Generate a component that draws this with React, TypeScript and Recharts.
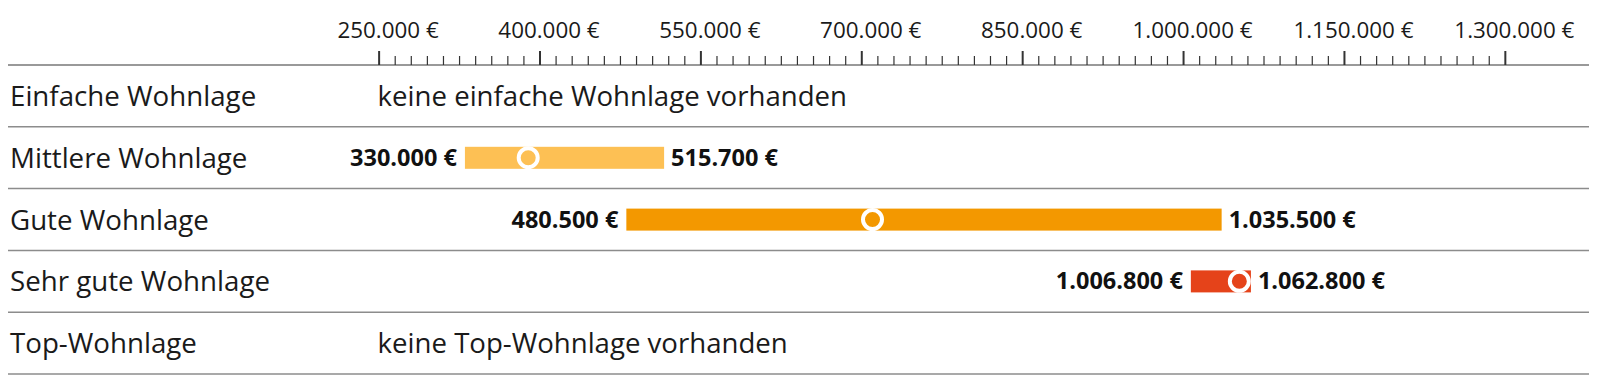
import { ComposedChart, Bar, Line, XAxis, YAxis, CartesianGrid } from "recharts";

const categories = [
  "Einfache Wohnlage",
  "Mittlere Wohnlage",
  "Gute Wohnlage",
  "Sehr gute Wohnlage",
  "Top-Wohnlage",
];
const lows = [null, 330000, 480500, 1006800, null];
const highs = [null, 515700, 1035500, 1062800, null];
const medians = [null, 389000, 710000, 1052000, null];
const notes = [
  "keine einfache Wohnlage vorhanden",
  null,
  null,
  null,
  "keine Top-Wohnlage vorhanden",
];
const majorTicks = [250000, 400000, 550000, 700000, 850000, 1000000, 1150000, 1300000];
const minorStep = 15000;
const barColors = [null, "#fdc054", "#f39800", "#e5431a", null];
const xDomain = [-96000, 1378000];

const FONT = "'Open Sans', sans-serif";

const allTicks: number[] = [];
for (let v = majorTicks[0]; v <= majorTicks[majorTicks.length - 1]; v += minorStep) {
  allTicks.push(v);
}

const fmt = (v: number) => String(v).replace(/\B(?=(\d{3})+(?!\d))/g, ".") + " €";

const data = categories.map((name, i) => ({
  name,
  lo: lows[i],
  hi: highs[i],
  range: lows[i] != null ? [lows[i], highs[i]] : null,
  median: medians[i],
  color: barColors[i],
  note: notes[i],
  noteAt: notes[i] ? majorTicks[0] : null,
  labelAt: xDomain[0],
}));

const AxisTick = (props: any) => {
  const { x, y, payload } = props;
  const isMajor = majorTicks.includes(payload.value);
  return (
    <g>
      <line
        x1={x}
        x2={x}
        y1={y}
        y2={y - (isMajor ? 14 : 9)}
        stroke="#333"
        strokeWidth={isMajor ? 2 : 1.2}
      />
      {isMajor && (
        <text
          x={x}
          y={y - 27.5}
          dx={9}
          textAnchor="middle"
          fontSize={22.4}
          fontFamily={FONT}
          fill="#1a1a1a"
        >
          {fmt(payload.value)}
        </text>
      )}
    </g>
  );
};

const RangeShape = (props: any) => {
  const { x, y, width, height, payload } = props;
  if (!payload || payload.lo == null || width == null) return <g />;
  const cy = y + height / 2;
  return (
    <g>
      <rect x={x} y={y} width={width} height={height} fill={payload.color} />
      <text
        x={x - 8}
        y={cy + 8}
        textAnchor="end"
        fontSize={23.5}
        fontWeight={700}
        fontFamily={FONT}
        fill="#111"
      >
        {fmt(payload.lo)}
      </text>
      <text
        x={x + width + 7}
        y={cy + 8}
        textAnchor="start"
        fontSize={23.5}
        fontWeight={700}
        fontFamily={FONT}
        fill="#111"
      >
        {fmt(payload.hi)}
      </text>
    </g>
  );
};

const MedianDot = (props: any) => {
  const { cx, cy, index, payload } = props;
  if (cx == null || cy == null || !payload || payload.median == null)
    return <g key={`m-${index}`} />;
  return (
    <circle
      key={`m-${index}`}
      cx={cx}
      cy={cy}
      r={9.5}
      fill={payload.color}
      stroke="#fff"
      strokeWidth={4}
    />
  );
};

const NoteDot = (props: any) => {
  const { cx, cy, index, payload } = props;
  if (cx == null || cy == null || !payload || !payload.note) return <g key={`n-${index}`} />;
  return (
    <text
      key={`n-${index}`}
      x={cx - 1.5}
      y={cy}
      dy={10}
      fontSize={27.6}
      fontFamily={FONT}
      fill="#1a1a1a"
    >
      {payload.note}
    </text>
  );
};

const LabelDot = (props: any) => {
  const { cx, cy, index, payload } = props;
  if (cx == null || cy == null || !payload) return <g key={`l-${index}`} />;
  return (
    <text
      key={`l-${index}`}
      x={cx + 2}
      y={cy}
      dy={10}
      fontSize={27.7}
      fontFamily={FONT}
      fill="#1a1a1a"
    >
      {payload.name}
    </text>
  );
};

export default function App() {
  return (
    <div style={{ width: 1584, height: 370 }}>
      <style>{"html,body{overflow:hidden}"}</style>
      <ComposedChart
        layout="vertical"
        width={1584}
        height={370}
        data={data}
        margin={{ top: 0, right: 3, bottom: 4, left: 0 }}
      >
        <CartesianGrid
          vertical={false}
          stroke="#8c8c8c"
          strokeWidth={1.5}
          horizontalCoordinatesGenerator={({ offset }: any) =>
            categories.map((_, i) => offset.top + (offset.height * (i + 1)) / categories.length)
          }
        />
        <XAxis
          type="number"
          orientation="top"
          domain={xDomain}
          allowDataOverflow
          ticks={allTicks}
          interval={0}
          height={57}
          tickSize={0}
          tickMargin={0}
          tickLine={false}
          axisLine={{ stroke: "#777", strokeWidth: 1.5 }}
          tick={<AxisTick />}
        />
        <YAxis type="category" dataKey="name" hide />
        <Bar dataKey="range" barSize={22} shape={<RangeShape />} isAnimationActive={false} />
        <Line
          dataKey="median"
          stroke="none"
          dot={<MedianDot />}
          activeDot={false}
          isAnimationActive={false}
        />
        <Line
          dataKey="noteAt"
          stroke="none"
          dot={<NoteDot />}
          activeDot={false}
          isAnimationActive={false}
        />
        <Line
          dataKey="labelAt"
          stroke="none"
          dot={<LabelDot />}
          activeDot={false}
          isAnimationActive={false}
        />
      </ComposedChart>
    </div>
  );
}
